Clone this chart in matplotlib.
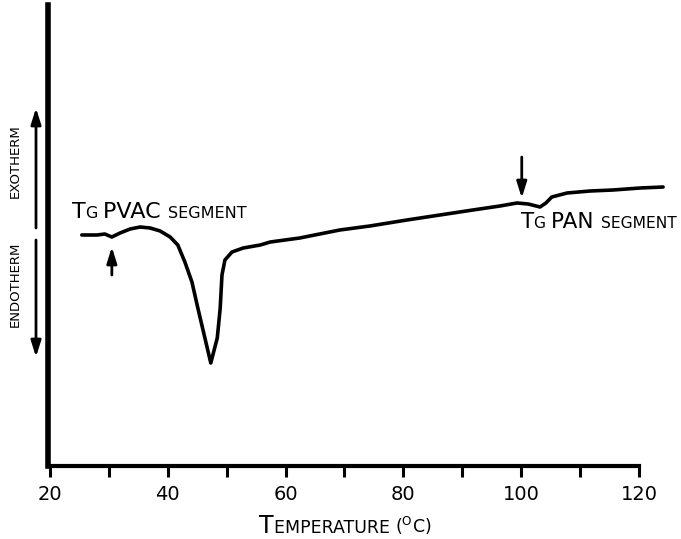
import matplotlib
matplotlib.use("Agg")
import matplotlib.pyplot as plt
from matplotlib.offsetbox import TextArea, HPacker, AnnotationBbox

plt.rcParams['font.family'] = ['DejaVu Sans']

# DSC trace (temperature in C, signal in arbitrary units)
temp = [25.4, 28.0, 29.3, 30.5, 31.9, 33.6, 35.3, 37.0, 38.7, 40.4, 41.7, 42.9,
        44.1, 45.1, 46.3, 47.3, 48.4, 48.9, 49.2, 49.7, 50.9, 52.8, 55.7, 57.4,
        62.4, 69.2, 74.3, 80.6, 86.2, 91.8, 96.4, 99.3, 101.2, 103.2, 104.2,
        105.2, 107.8, 111.7, 115.6, 120.2, 124.1]
signal = [23.1, 23.1, 23.2, 22.9, 23.3, 23.7, 23.9, 23.8, 23.5, 22.9, 22.1, 20.4,
          18.4, 15.8, 12.8, 10.3, 12.8, 15.8, 19.1, 20.6, 21.4, 21.8, 22.1, 22.4,
          22.8, 23.6, 24.0, 24.6, 25.1, 25.6, 26.0, 26.3, 26.2, 25.9, 26.3,
          26.9, 27.3, 27.5, 27.6, 27.8, 27.9]

major_ticks = [20, 40, 60, 80, 100, 120]
minor_ticks = [30, 50, 70, 90, 110]
tick_labels = ['20', '40', '60', '80', '100', '120']

tg_pvac = 30.5
tg_pan = 100.1

W, H = 681, 539
fig = plt.figure(figsize=(W / 100, H / 100), dpi=100)
ax = fig.add_axes([48 / W, 1 - 466 / H, 620.4 / W, (466 - 5) / H])

ax.plot(temp, signal, color='black', lw=2.6, solid_capstyle='round',
        solid_joinstyle='round')
ax.set_xlim(19.66, 125)
ax.set_ylim(0, 46.1)

for s in ['top', 'right']:
    ax.spines[s].set_visible(False)
ax.spines['left'].set_linewidth(4)
ax.spines['bottom'].set_linewidth(3)
ax.spines['bottom'].set_bounds(19.66, 120)

ax.set_yticks([])
ax.set_xticks(major_ticks)
ax.set_xticklabels(tick_labels)
ax.set_xticks(minor_ticks, minor=True)
ax.tick_params(axis='x', which='both', direction='out', length=8, width=2.2,
               pad=6, labelsize=14)


def px(x, y):
    return (x / W, 1 - y / H)


def caps_label(x, y, parts):
    # parts: list of (text, fontsize); placed left-bottom at image pixel (x, y)
    boxes = [TextArea(t, textprops=dict(fontsize=fs, color='black')) for t, fs in parts]
    pack = HPacker(children=boxes, align='baseline', pad=0, sep=0)
    ab = AnnotationBbox(pack, px(x, y), xycoords='figure fraction',
                        box_alignment=(0, 0), frameon=False, pad=0)
    fig.add_artist(ab)


caps_label(72, 222, [('T', 16), ('G ', 11.5), ('PVAC ', 16), ('SEGMENT', 11.5)])
caps_label(521, 232, [('T', 15.5), ('G ', 11.2), ('PAN ', 15.5), ('SEGMENT', 11.2)])
caps_label(259, 538, [('T', 17), ('EMPERATURE ', 12.5), (r'($^{\mathrm{O}}$C)', 12.5)])

fig.text(15 / W, 1 - 161 / H, 'EXOTHERM', rotation=90, fontsize=9.5,
         ha='center', va='center')
fig.text(15 / W, 1 - 284 / H, 'ENDOTHERM', rotation=90, fontsize=9.5,
         ha='center', va='center')

arrow = dict(arrowstyle='-|>,head_length=0.8,head_width=0.25', color='black',
             lw=2, mutation_scale=12, shrinkA=0, shrinkB=0)
xa = -12 / 620.4
ax.annotate('', xy=(xa, (466 - 108) / 461), xytext=(xa, (466 - 228) / 461),
            xycoords='axes fraction', arrowprops=arrow)
ax.annotate('', xy=(xa, (466 - 357) / 461), xytext=(xa, (466 - 240) / 461),
            xycoords='axes fraction', arrowprops=arrow)
ax.annotate('', xy=(tg_pvac, 21.9), xytext=(tg_pvac, 19.1), arrowprops=arrow)
ax.annotate('', xy=(tg_pan, 26.8), xytext=(tg_pan, 30.9), arrowprops=arrow)

fig.savefig('out.png', dpi=100)
